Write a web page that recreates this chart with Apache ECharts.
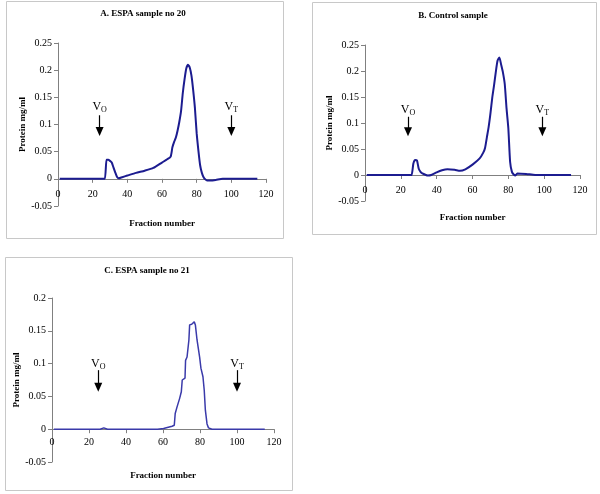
<!DOCTYPE html>
<html>
<head>
<meta charset="utf-8">
<script src="https://cdn.jsdelivr.net/npm/echarts@6/dist/echarts.min.js"></script>
<style>html,body{margin:0;padding:0;background:#fff}#c{width:600px;height:494px}</style>
</head>
<body>
<div id="c"></div>
<script>
// ---- Data ----
const titles = ['A. ESPA sample no 20', 'B. Control sample', 'C. ESPA sample no 21'];
const xName = 'Fraction number';
const yName = 'Protein mg/ml';
const xTicks = [0, 20, 40, 60, 80, 100, 120];
const yTicksAB = [-0.05, 0, 0.05, 0.1, 0.15, 0.2, 0.25];
const yTicksC = [-0.05, 0, 0.05, 0.1, 0.15, 0.2];

const xA = [1, 5, 10, 15, 20, 25, 27, 28, 29, 30, 31, 32, 33, 34, 35, 37, 40, 45, 50, 55, 60, 63, 65, 66, 67, 68, 69, 70, 71, 72, 73, 74, 75, 76, 77, 78, 79, 80, 81, 82, 83, 84, 85, 86, 88, 91, 95, 100, 105, 110, 115];
const yA = [0, 0, 0, 0, 0, 0, 0, 0.035, 0.035, 0.033, 0.030, 0.021, 0.012, 0.004, 0.001, 0.003, 0.006, 0.011, 0.015, 0.020, 0.030, 0.036, 0.041, 0.058, 0.068, 0.076, 0.089, 0.105, 0.125, 0.158, 0.183, 0.203, 0.210, 0.205, 0.190, 0.163, 0.130, 0.084, 0.052, 0.025, 0.011, 0.003, -0.001, -0.003, -0.003, -0.002, 0, 0, 0, 0, 0];

const xB = [1, 5, 10, 15, 20, 25, 26, 27, 28, 29, 30, 31, 32, 34, 35, 37, 40, 43, 46, 50, 53, 56, 60, 64, 66, 67, 68, 69, 70, 71, 72, 73, 74, 75, 76, 77, 78, 79, 80, 81, 82, 83, 84, 85, 90, 95, 100, 105, 110, 115];
const yB = [0, 0, 0, 0, 0, 0, 0, 0.022, 0.029, 0.028, 0.012, 0.006, 0.003, 0, -0.001, 0, 0.005, 0.009, 0.011, 0.010, 0.008, 0.011, 0.020, 0.032, 0.043, 0.052, 0.072, 0.092, 0.118, 0.148, 0.172, 0.198, 0.220, 0.226, 0.212, 0.197, 0.175, 0.128, 0.090, 0.025, 0.006, 0.001, -0.001, 0.003, 0.002, 0, 0, 0, 0, 0];

const xC = [1, 10, 20, 26, 27, 28, 29, 30, 40, 50, 57, 60.3, 64.9, 66.1, 66.6, 67.6, 69, 69.9, 70.4, 71.1, 71.9, 72.2, 73, 74, 74.4, 75.5, 76.2, 76.9, 77.5, 78.4, 79.8, 80.5, 81.6, 82.3, 82.9, 83.8, 84.6, 86.5, 90, 100, 110, 115];
const yC = [0, 0, 0, 0, 0.001, 0.002, 0.001, 0, 0, 0, 0, 0.001, 0.0046, 0.006, 0.024, 0.034, 0.047, 0.057, 0.075, 0.077, 0.078, 0.105, 0.110, 0.136, 0.159, 0.160, 0.162, 0.1636, 0.159, 0.136, 0.110, 0.093, 0.080, 0.059, 0.029, 0.008, 0.002, 0, 0, 0, 0, 0];

// marker positions: [VO x, VT x, label y, shaft top y, arrow end y]
const markA = [24, 100, 0.132, 0.117, 0.087];
const markB = [24, 99, 0.125, 0.112, 0.083];
const markC = [25, 100, 0.100, 0.090, 0.064];

// ---- Chart ----
const FONT = 'Liberation Serif';
const lineColor = '#1c1c90';

function pairs(xs, ys) { return xs.map((x, i) => [x, ys[i]]); }

function markers(m) {
  const rich = {
    v: { fontFamily: FONT, fontSize: 12, color: '#000', lineHeight: 14 },
    s: { fontFamily: FONT, fontSize: 8, color: '#000', verticalAlign: 'bottom', lineHeight: 14, padding: [5, 0, 0, 0] }
  };
  return {
    markLine: {
      silent: true,
      animation: false,
      symbol: ['none', 'triangle'],
      symbolSize: [8, 9],
      label: { show: false },
      lineStyle: { color: '#000', width: 1.2, type: 'solid' },
      data: [
        [{ coord: [m[0], m[3]] }, { coord: [m[0], m[4]] }],
        [{ coord: [m[1], m[3]] }, { coord: [m[1], m[4]] }]
      ]
    },
    markPoint: {
      silent: true,
      animation: false,
      symbol: 'circle',
      symbolSize: 0,
      label: { show: true, position: 'inside', rich: rich },
      data: [
        { coord: [m[0], m[2]], value: 'O', label: { formatter: '{v|V}{s|O}' } },
        { coord: [m[1], m[2]], value: 'T', label: { formatter: '{v|V}{s|T}' } }
      ]
    }
  };
}

const grids = [
  { left: 58, top: 43, width: 208, height: 163 },
  { left: 365, top: 45, width: 215, height: 156 },
  { left: 52, top: 298, width: 222, height: 164 }
];
const yMin = -0.05;
const yMax = [0.25, 0.25, 0.2];
const yNameGap = [30, 30, 27];
const xNameGap = [40, 38, 42];
const xLabelMargin = [11, 10, 8];

const axisLabelStyle = { fontFamily: FONT, fontSize: 10, color: '#000' };
const nameStyle = { fontFamily: FONT, fontSize: 9, fontWeight: 'bold', color: '#000' };
const titleFont = 'bold 9px "Liberation Serif"';

const option = {
  animation: false,
  backgroundColor: '#fff',
  grid: grids.map(g => Object.assign({ containLabel: false }, g)),
  xAxis: grids.map((g, i) => ({
    type: 'value', gridIndex: i, min: 0, max: 120, interval: 20,
    position: 'bottom',
    // move the x axis up so it sits on the y = 0 line
    offset: -g.height * (0 - yMin) / (yMax[i] - yMin),
    name: xName, nameLocation: 'middle', nameGap: xNameGap[i],
    nameTextStyle: nameStyle,
    axisLine: { show: true, onZero: false, lineStyle: { color: '#808080', width: 1 } },
    axisTick: { show: true, length: 4, lineStyle: { color: '#808080' } },
    axisLabel: Object.assign({ margin: xLabelMargin[i], formatter: v => xTicks.includes(v) ? String(v) : '' }, axisLabelStyle),
    splitLine: { show: false }
  })),
  yAxis: grids.map((g, i) => ({
    type: 'value', gridIndex: i, min: yMin, max: yMax[i], interval: 0.05,
    name: yName, nameLocation: 'middle', nameGap: yNameGap[i], nameRotate: 90,
    nameTextStyle: nameStyle,
    axisLine: { show: true, onZero: false, lineStyle: { color: '#808080', width: 1 } },
    axisTick: { show: true, length: 4, lineStyle: { color: '#808080' } },
    axisLabel: Object.assign({ margin: 6, formatter: v => {
      const ticks = i < 2 ? yTicksAB : yTicksC;
      const t = ticks.find(k => Math.abs(k - v) < 1e-9);
      return t === undefined ? '' : String(t);
    } }, axisLabelStyle),
    splitLine: { show: false }
  })),
  series: [
    Object.assign({ type: 'line', xAxisIndex: 0, yAxisIndex: 0, data: pairs(xA, yA), showSymbol: false, smooth: 0.2,
      lineStyle: { color: lineColor, width: 2 } }, markers(markA)),
    Object.assign({ type: 'line', xAxisIndex: 1, yAxisIndex: 1, data: pairs(xB, yB), showSymbol: false, smooth: 0.2,
      lineStyle: { color: lineColor, width: 2 } }, markers(markB)),
    Object.assign({ type: 'line', xAxisIndex: 2, yAxisIndex: 2, data: pairs(xC, yC), showSymbol: false, smooth: false,
      lineStyle: { color: '#3a3aaa', width: 1.5 } }, markers(markC))
  ],
  graphic: [
    { type: 'rect', shape: { x: 6.5, y: 1.5, width: 277, height: 237 }, style: { fill: 'none', stroke: '#c8c8c8', lineWidth: 1 }, z: -1 },
    { type: 'rect', shape: { x: 312.5, y: 2.5, width: 284, height: 232 }, style: { fill: 'none', stroke: '#c8c8c8', lineWidth: 1 }, z: -1 },
    { type: 'rect', shape: { x: 5.5, y: 257.5, width: 287, height: 233 }, style: { fill: 'none', stroke: '#c8c8c8', lineWidth: 1 }, z: -1 },
    { type: 'text', x: 143, y: 14, style: { text: titles[0], font: titleFont, fill: '#000', align: 'center', verticalAlign: 'middle', textAlign: 'center', textVerticalAlign: 'middle' } },
    { type: 'text', x: 453, y: 16, style: { text: titles[1], font: titleFont, fill: '#000', align: 'center', verticalAlign: 'middle', textAlign: 'center', textVerticalAlign: 'middle' } },
    { type: 'text', x: 147, y: 271, style: { text: titles[2], font: titleFont, fill: '#000', align: 'center', verticalAlign: 'middle', textAlign: 'center', textVerticalAlign: 'middle' } }
  ]
};

const chart = echarts.init(document.getElementById('c'), null, { renderer: 'canvas' });
chart.setOption(option);
</script>
</body>
</html>
